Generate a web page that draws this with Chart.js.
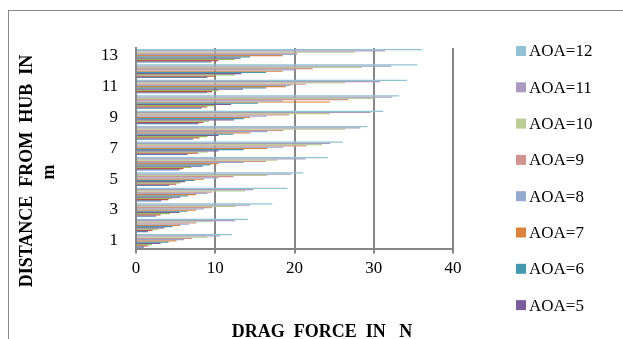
<!DOCTYPE html>
<html lang="en">
<head>
  <meta charset="UTF-8">
  <title>Drag force vs distance from hub</title>
  <script src="https://cdn.jsdelivr.net/npm/chart.js"></script>
  <style>
    html, body { margin: 0; padding: 0; background: #fff; overflow: hidden; }
    #frame { position: absolute; left: 8px; top: 10px; width: 700px; height: 400px; border: 1px solid #888; }
    #chart { position: absolute; left: 0; top: 0; }
  </style>
</head>
<body>
<div id="frame"></div>
<canvas id="chart" width="623" height="339"></canvas>

<script>
  // distance from hub (m)
  const distances = ['1', '2', '3', '4', '5', '6', '7', '8', '9', '10', '11', '12', '13'];

  // drag force (N) per angle of attack
  const aoa12 = [12.1, 14.1, 17.2, 19.1, 21.1, 24.2, 26.1, 29.2, 31.2, 33.2, 34.2, 35.5, 36.1];
  const aoa11 = [10.6, 12.5, 14.4, 14.8, 19.6, 21.4, 24.5, 28.3, 29.6, 32.3, 30.8, 32.2, 31.4];
  const aoa10 = [9.0, 9.6, 12.6, 13.8, 16.6, 17.8, 23.5, 26.4, 24.5, 30.0, 26.4, 28.5, 27.6];
  const aoa9 = [7.1, 7.6, 9.6, 9.6, 12.3, 16.4, 21.5, 18.6, 19.3, 26.8, 21.4, 22.3, 20.4];
  const aoa8 = [6.1, 6.7, 8.6, 9.0, 10.4, 13.6, 18.6, 16.6, 16.5, 18.5, 19.5, 20.0, 20.3];
  const aoa7 = [5.1, 5.6, 7.6, 7.6, 8.6, 10.4, 16.6, 14.4, 14.4, 24.5, 18.9, 18.5, 18.5];
  const aoa6 = [4.1, 4.6, 6.5, 6.6, 7.4, 9.4, 13.6, 12.3, 13.6, 15.4, 16.4, 16.4, 14.4];
  const aoa5 = [3.1, 3.6, 5.5, 5.6, 6.2, 8.4, 10.4, 10.4, 12.4, 12.0, 13.5, 13.3, 13.2];
  const aoa4 = [2.0, 2.8, 4.3, 4.6, 5.6, 7.0, 9.0, 9.0, 9.2, 10.0, 10.4, 12.5, 12.5];
  const aoa3 = [1.5, 2.1, 3.1, 4.1, 5.1, 6.0, 7.8, 8.0, 8.5, 9.0, 9.6, 10.0, 10.4];
  const aoa2 = [1.0, 1.5, 2.5, 3.2, 4.2, 5.5, 6.5, 7.2, 7.9, 8.3, 9.0, 9.0, 9.5];

  const xTicks = [0, 10, 20, 30, 40];

  // top of each group first, like the legend
  const series = [
    { label: 'AOA=12', data: aoa12, color: '#92C3D4' },
    { label: 'AOA=11', data: aoa11, color: '#A99BBD' },
    { label: 'AOA=10', data: aoa10, color: '#B9CD96' },
    { label: 'AOA=9', data: aoa9, color: '#D19392' },
    { label: 'AOA=8', data: aoa8, color: '#93A9CF' },
    { label: 'AOA=7', data: aoa7, color: '#DB843D' },
    { label: 'AOA=6', data: aoa6, color: '#4198AF' },
    { label: 'AOA=5', data: aoa5, color: '#7B5C9A' },
    { label: 'AOA=4', data: aoa4, color: '#9BBB59' },
    { label: 'AOA=3', data: aoa3, color: '#C0504D' },
    { label: 'AOA=2', data: aoa2, color: '#4F81BD' }
  ];
  const legendRows = 8; // the legend box only has room for 8 entries

  const serif = "'Liberation Serif', 'Times New Roman', serif";
  Chart.defaults.font.family = serif;
  Chart.defaults.font.size = 17;
  Chart.defaults.color = '#000';

  // legend on the right + axis titles, drawn by hand
  const extras = {
    id: 'extras',
    afterDraw(chart) {
      const ctx = chart.ctx;
      ctx.save();
      ctx.font = '17px ' + serif;
      ctx.textBaseline = 'middle';
      ctx.textAlign = 'left';
      chart.data.datasets.slice(0, legendRows).forEach((ds, i) => {
        const y = 51 + i * 36.3;
        ctx.fillStyle = ds.backgroundColor;
        ctx.fillRect(516, y - 5, 10, 10);
        ctx.fillStyle = '#000';
        ctx.fillText(ds.label, 529, y + 1);
      });

      ctx.font = 'bold 18px ' + serif;
      ctx.textAlign = 'center';
      ctx.textBaseline = 'alphabetic';
      ctx.fillText('DRAG  FORCE  IN   N', 322, 337);

      ctx.translate(32, 171);
      ctx.rotate(-Math.PI / 2);
      ctx.fillText('DISTANCE  FROM  HUB  IN', 0, 0);
      ctx.fillText('m', -1, 22);
      ctx.restore();
    }
  };

  new Chart(document.getElementById('chart'), {
    type: 'bar',
    data: {
      labels: distances,
      datasets: series.map(s => ({
        label: s.label,
        data: s.data,
        backgroundColor: s.color,
        borderWidth: 0,
        categoryPercentage: 0.88,
        barPercentage: 1
      }))
    },
    options: {
      indexAxis: 'y',
      responsive: false,
      animation: false,
      layout: { padding: { left: 83, right: 170, top: 48, bottom: 55 } },
      plugins: { legend: { display: false }, tooltip: { enabled: false } },
      scales: {
        x: {
          min: xTicks[0],
          max: xTicks[xTicks.length - 1],
          afterBuildTicks: axis => { axis.ticks = xTicks.map(v => ({ value: v })); },
          grid: { color: '#868686', lineWidth: 2, drawTicks: true, tickLength: 5 },
          border: { color: '#868686', width: 2 },
          ticks: { padding: 5 }
        },
        y: {
          reverse: true,
          grid: { display: false, drawTicks: false },
          border: { color: '#868686', width: 2 },
          ticks: {
            autoSkip: false,
            padding: 18,
            callback: function (v, i) { return i % 2 === 0 ? this.getLabelForValue(v) : ''; }
          }
        }
      }
    },
    plugins: [extras]
  });
</script>
</body>
</html>
